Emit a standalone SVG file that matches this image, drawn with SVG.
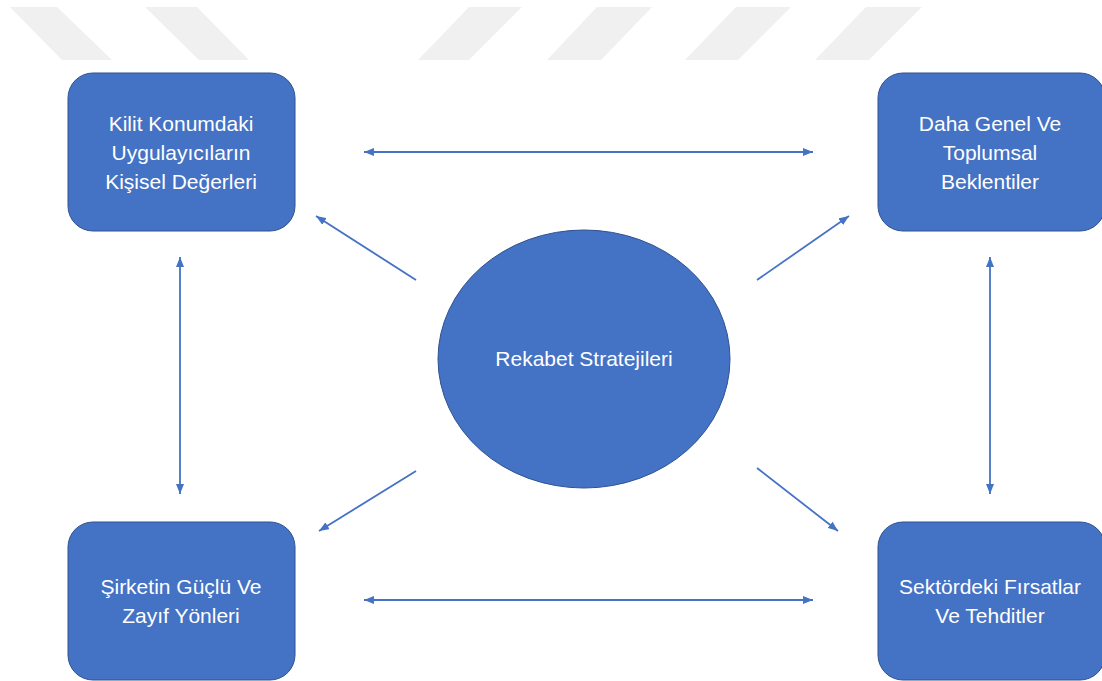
<svg xmlns="http://www.w3.org/2000/svg" width="1102" height="681" viewBox="0 0 1102 681">
<style>
.box{fill:#4472C4;stroke:#2F528F;stroke-width:1}
.lbl{fill:#ffffff;font-family:"Liberation Sans","Open Sans",sans-serif;font-size:21px;text-anchor:middle}
.con{stroke:#4472C4;stroke-width:1.8;fill:none}
.wm{fill:#f0f0f0}
</style>
<defs>
<marker id="ah" viewBox="0 0 10 8" refX="10" refY="4" markerWidth="10" markerHeight="8" markerUnits="userSpaceOnUse" orient="auto-start-reverse">
<path d="M0,0 L10,4 L0,8 Z" fill="#4472C4"/>
</marker>
</defs>
<rect width="1102" height="681" fill="#ffffff"/>
<g id="watermark">
<polygon class="wm" points="10,7 57,7 112,60 62,60"/>
<polygon class="wm" points="145,7 197,7 249,60 199,60"/>
<polygon class="wm" points="469,7 522,7 469,60 418,60"/>
<polygon class="wm" points="597,7 652,7 601,60 547,60"/>
<polygon class="wm" points="736,7 791,7 738,60 685,60"/>
<polygon class="wm" points="866,7 922,7 869,60 815,60"/>
</g>
<g id="connectors">
<line class="con" x1="364" y1="152" x2="813" y2="152" marker-start="url(#ah)" marker-end="url(#ah)"/>
<line class="con" x1="364" y1="600" x2="813" y2="600" marker-start="url(#ah)" marker-end="url(#ah)"/>
<line class="con" x1="180" y1="257" x2="180" y2="494" marker-start="url(#ah)" marker-end="url(#ah)"/>
<line class="con" x1="990" y1="257" x2="990" y2="494" marker-start="url(#ah)" marker-end="url(#ah)"/>
<line class="con" x1="416" y1="280" x2="316" y2="216" marker-end="url(#ah)"/>
<line class="con" x1="757" y1="280" x2="849" y2="216" marker-end="url(#ah)"/>
<line class="con" x1="416" y1="471" x2="319" y2="531" marker-end="url(#ah)"/>
<line class="con" x1="757" y1="468" x2="838" y2="531" marker-end="url(#ah)"/>
</g>
<g id="node-center">
<ellipse class="box" cx="584" cy="359" rx="146" ry="129"/>
<text class="lbl" x="584" y="366">Rekabet Stratejileri</text>
</g>
<g id="node-tl">
<rect class="box" x="68" y="73" width="227" height="158" rx="25"/>
<text class="lbl" x="181" y="131">Kilit Konumdaki</text>
<text class="lbl" x="181" y="160">Uygulayıcıların</text>
<text class="lbl" x="181" y="189">Kişisel Değerleri</text>
</g>
<g id="node-tr">
<rect class="box" x="878" y="73" width="227" height="158" rx="25"/>
<text class="lbl" x="990" y="131">Daha Genel Ve</text>
<text class="lbl" x="990" y="160">Toplumsal</text>
<text class="lbl" x="990" y="189">Beklentiler</text>
</g>
<g id="node-bl">
<rect class="box" x="68" y="522" width="227" height="158" rx="25"/>
<text class="lbl" x="181" y="594">Şirketin Güçlü Ve</text>
<text class="lbl" x="181" y="623">Zayıf Yönleri</text>
</g>
<g id="node-br">
<rect class="box" x="878" y="522" width="227" height="158" rx="25"/>
<text class="lbl" x="990" y="594">Sektördeki Fırsatlar</text>
<text class="lbl" x="990" y="623">Ve Tehditler</text>
</g>
</svg>
